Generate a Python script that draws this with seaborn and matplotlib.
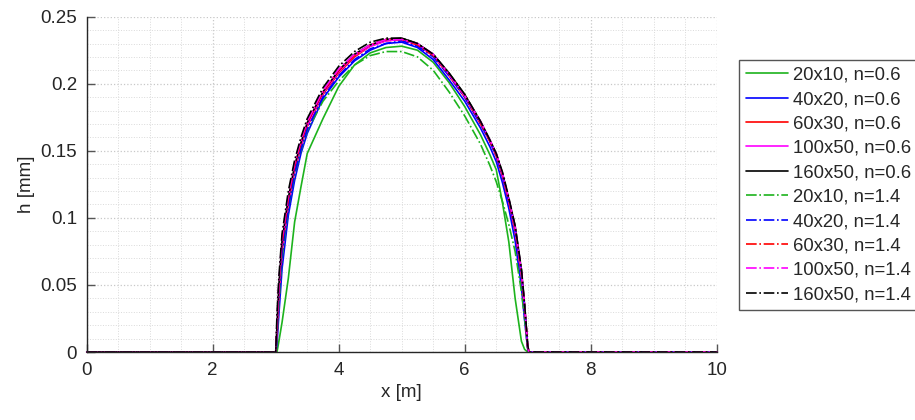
import numpy as np
import pandas as pd
import matplotlib
matplotlib.use("Agg")
import matplotlib.pyplot as plt
import seaborn as sns
from matplotlib.ticker import MultipleLocator

# posiciones x [m] donde se leyeron los perfiles
x_m = [0, 3.0, 3.02, 3.05, 3.1, 3.2, 3.3, 3.4, 3.5, 3.75, 4.0, 4.25, 4.5, 4.75, 5.0,
       5.25, 5.5, 5.75, 6.0, 6.25, 6.4, 6.5, 6.6, 6.7, 6.8, 6.9, 6.95, 7.0, 7.02, 10]

# espesor h [mm] para cada malla, n=0.6
h_20x10_06 = [0, 0, 0, 0.008, 0.022, 0.055, 0.097, 0.123, 0.148, 0.174, 0.198, 0.214, 0.223, 0.227, 0.228,
              0.225, 0.216, 0.201, 0.183, 0.162, 0.147, 0.136, 0.111, 0.082, 0.040, 0.008, 0.002, 0, 0, 0]
h_40x20_06 = [0, 0, 0.006, 0.028, 0.062, 0.102, 0.128, 0.148, 0.163, 0.189, 0.205, 0.217, 0.225, 0.230, 0.231,
              0.227, 0.218, 0.203, 0.187, 0.167, 0.153, 0.142, 0.126, 0.107, 0.083, 0.048, 0.024, 0.002, 0, 0]
h_60x30_06 = [0, 0, 0.012, 0.040, 0.075, 0.110, 0.135, 0.153, 0.168, 0.192, 0.208, 0.220, 0.228, 0.232, 0.233,
              0.229, 0.221, 0.206, 0.190, 0.170, 0.157, 0.146, 0.131, 0.112, 0.090, 0.058, 0.032, 0.003, 0, 0]
h_100x50_06 = [0, 0, 0.015, 0.044, 0.078, 0.112, 0.137, 0.154, 0.169, 0.193, 0.209, 0.221, 0.228, 0.232, 0.233,
               0.229, 0.221, 0.207, 0.191, 0.171, 0.157, 0.147, 0.132, 0.113, 0.092, 0.059, 0.034, 0.004, 0, 0]
h_160x50_06 = [0, 0, 0.020, 0.050, 0.083, 0.115, 0.139, 0.156, 0.171, 0.194, 0.210, 0.222, 0.229, 0.233, 0.234,
               0.230, 0.222, 0.208, 0.192, 0.172, 0.158, 0.148, 0.133, 0.114, 0.094, 0.061, 0.035, 0.004, 0, 0]

# espesor h [mm] para cada malla, n=1.4
h_20x10_14 = [0, 0, 0.010, 0.035, 0.070, 0.107, 0.132, 0.150, 0.165, 0.187, 0.202, 0.214, 0.221, 0.224, 0.224,
              0.220, 0.210, 0.194, 0.176, 0.155, 0.139, 0.127, 0.112, 0.095, 0.075, 0.045, 0.025, 0.002, 0, 0]
h_40x20_14 = [0, 0, 0.012, 0.040, 0.074, 0.108, 0.133, 0.151, 0.166, 0.190, 0.206, 0.218, 0.226, 0.230, 0.232,
              0.228, 0.220, 0.206, 0.190, 0.170, 0.157, 0.146, 0.131, 0.112, 0.091, 0.058, 0.033, 0.003, 0, 0]
h_60x30_14 = [0, 0, 0.018, 0.048, 0.081, 0.114, 0.139, 0.156, 0.171, 0.194, 0.210, 0.221, 0.229, 0.233, 0.233,
              0.229, 0.221, 0.207, 0.191, 0.171, 0.157, 0.147, 0.132, 0.113, 0.092, 0.059, 0.034, 0.004, 0, 0]
h_100x50_14 = [0, 0, 0.022, 0.052, 0.085, 0.117, 0.141, 0.158, 0.172, 0.195, 0.211, 0.222, 0.229, 0.233, 0.233,
               0.230, 0.222, 0.207, 0.191, 0.172, 0.158, 0.148, 0.133, 0.114, 0.093, 0.060, 0.035, 0.004, 0, 0]
h_160x50_14 = [0, 0, 0.028, 0.056, 0.088, 0.120, 0.143, 0.160, 0.174, 0.197, 0.213, 0.224, 0.231, 0.234, 0.234,
               0.230, 0.222, 0.208, 0.192, 0.172, 0.158, 0.148, 0.134, 0.115, 0.094, 0.062, 0.036, 0.005, 0, 0]

etiquetas = ['20x10, n=0.6', '40x20, n=0.6', '60x30, n=0.6', '100x50, n=0.6', '160x50, n=0.6',
             '20x10, n=1.4', '40x20, n=1.4', '60x30, n=1.4', '100x50, n=1.4', '160x50, n=1.4']
perfiles = [h_20x10_06, h_40x20_06, h_60x30_06, h_100x50_06, h_160x50_06,
            h_20x10_14, h_40x20_14, h_60x30_14, h_100x50_14, h_160x50_14]
colores = ['#1db31d', '#0000ff', '#ff0000', '#ff00ff', '#000000'] * 2
estilos = ['-'] * 5 + ['-.'] * 5

# marcas de los ejes
x_ticks = [0, 2, 4, 6, 8, 10]
y_ticks = [0, 0.05, 0.1, 0.15, 0.2, 0.25]
y_labels = ['0', '0.05', '0.1', '0.15', '0.2', '0.25']

sns.set_style("white")
plt.rcParams['font.family'] = ['Liberation Sans', 'DejaVu Sans']

fig = plt.figure(figsize=(9.15, 4.2), dpi=100)
ax = fig.add_axes([0.0948, 0.1619, 0.6885, 0.7984])

for h, lab, c, ls in zip(perfiles, etiquetas, colores, estilos):
    df = pd.DataFrame({'x': x_m, 'h': h})
    sns.lineplot(data=df, x='x', y='h', ax=ax, color=c, linestyle=ls, lw=1.2,
                 label=lab, estimator=None, sort=False, clip_on=False)

ax.set_xlim(0, 10)
ax.set_ylim(0, 0.25)
ax.set_xticks(x_ticks, [str(v) for v in x_ticks])
ax.set_yticks(y_ticks, y_labels)
ax.xaxis.set_minor_locator(MultipleLocator(0.5))
ax.yaxis.set_minor_locator(MultipleLocator(0.01))
ax.grid(which='major', color='#c8c8c8', linestyle=':', lw=0.9)
ax.grid(which='minor', color='#dadada', linestyle=':', lw=0.7)
ax.tick_params(which='major', direction='in', length=6, width=1, color='#555555',
               labelsize=13.5, labelcolor='#262626', pad=7)
ax.tick_params(which='minor', length=0)
ax.tick_params(axis='x', bottom=True)
ax.tick_params(axis='y', left=True)
for lado in ['top', 'right']:
    ax.spines[lado].set_visible(False)
for lado in ['left', 'bottom']:
    ax.spines[lado].set_color('#262626')
    ax.spines[lado].set_linewidth(1)

ax.set_xlabel('x [m]', fontsize=13.5, color='#262626', labelpad=4)
ax.set_ylabel('h [mm]', fontsize=13.5, color='#262626', labelpad=4)

leg = ax.legend(loc='upper left', bbox_to_anchor=(1.036, 0.870), fontsize=13.3,
                frameon=True, fancybox=False, framealpha=1, edgecolor='#555555',
                handlelength=2.3, handletextpad=0.25, labelspacing=0.4,
                borderpad=0.35, borderaxespad=0)
leg.get_frame().set_linewidth(1)

plt.savefig('out.png', dpi=100)
